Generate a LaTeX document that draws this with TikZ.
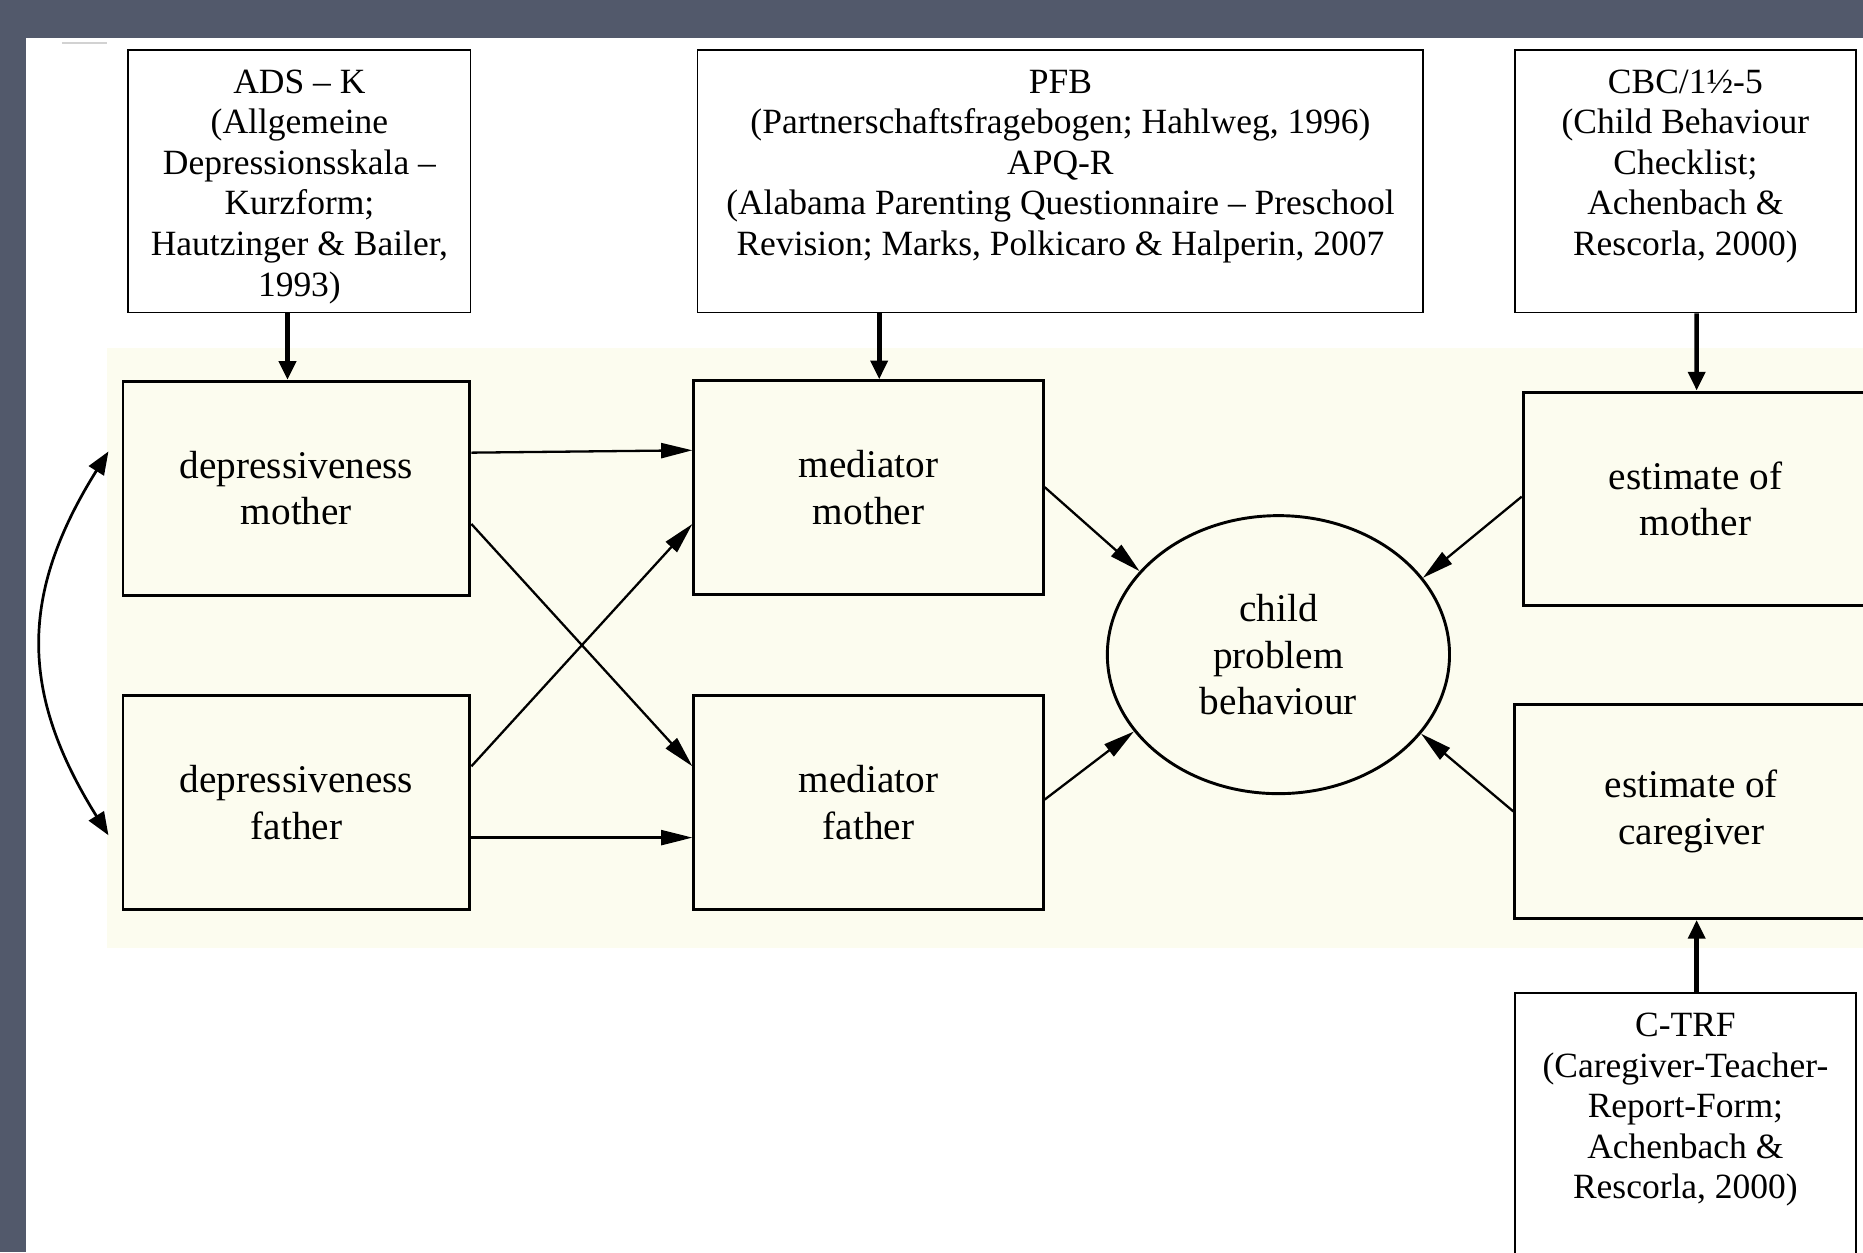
\documentclass[tikz,border=0pt]{standalone}
\usepackage{fontspec}
\setmainfont{Liberation Serif}
\usetikzlibrary{calc, arrows.meta, shapes.geometric}
\definecolor{frame}{RGB}{82,89,107}
\definecolor{panel}{RGB}{252,252,239}
\tikzset{
  srcbox/.style={draw, line width=0.45pt, fill=white, minimum width=28.8mm,
                 minimum height=22.1mm, inner sep=0pt},
  srctxt/.style={anchor=north, align=center, inner sep=0pt,
                 font=\fontsize{8.5}{9.7}\selectfont},
  varbox/.style={draw, line width=0.7pt, align=center, minimum width=29.2mm,
                 minimum height=18mm, inner sep=0pt,
                 font=\fontsize{9.4}{11.1}\selectfont},
  outcome/.style={varbox, ellipse, minimum width=28.8mm, minimum height=23.4mm},
  eff/.style={-{Triangle[length=7.5pt, width=3.6pt]}, line width=0.55pt},
  meas/.style={-{Triangle[length=4.5pt, width=4pt]}, line width=1.1pt},
  corr/.style={{Triangle[length=5.5pt, width=4.2pt]}-{Triangle[length=5.5pt, width=4.2pt]},
               line width=0.65pt},
}
\begin{document}
\begin{tikzpicture}[x=0.1mm, y=-0.1mm]
  \useasboundingbox (0,0) rectangle (1568,1054);
  \clip (0,0) rectangle (1568,1054);
  % page and shaded model area
  \fill[frame] (0,0) rectangle (1568,1054);
  \fill[white] (22,32) rectangle (1568,1060);
  \draw[gray!35, line width=0.5pt] (52,36) -- (90,36);
  \fill[panel] (90,293) rectangle (1580,798);

  % instruments
  \node[srcbox] (ads) at (252,152.5) {};
  \node[srcbox, minimum width=61.1mm] (pfb) at (892.5,152.5) {};
  \node[srcbox, minimum width=28.7mm] (cbc) at (1418.5,152.5) {};
  \node[srcbox, minimum width=28.7mm, minimum height=24.4mm] (ctrf) at (1418.5,958) {};
  \node[srctxt] (adst) at ($(ads.north)+(0,17)$)
    {ADS -- K\\(Allgemeine\\Depressionsskala --\\Kurzform;\\Hautzinger \& Bailer,\\1993)};
  \node[srctxt] (pfbt) at ($(pfb.north)+(0,17)$)
    {PFB\\(Partnerschaftsfragebogen; Hahlweg, 1996)\\APQ-R\\(Alabama Parenting Questionnaire -- Preschool\\Revision; Marks, Polkicaro \& Halperin, 2007};
  \node[srctxt] (cbct) at ($(cbc.north)+(0,17)$)
    {CBC/1½-5\\(Child Behaviour\\Checklist;\\Achenbach \&\\Rescorla, 2000)};
  \node[srctxt] (ctrft) at ($(ctrf.north)+(0,17)$)
    {C-TRF\\(Caregiver-Teacher-\\Report-Form;\\Achenbach \&\\Rescorla, 2000)};

  % model
  \node[varbox] (dm) at (249.5,411) {depressiveness\\mother};
  \node[varbox] (df) at (249.5,675.5) {depressiveness\\father};
  \node[varbox, minimum width=29.4mm] (mm) at (731,410.5) {mediator\\mother};
  \node[varbox, minimum width=29.4mm] (mf) at (731,675.5) {mediator\\father};
  \node[outcome] (child) at (1076,551) {child\\problem\\behaviour};
  \node[varbox, minimum width=29mm] (em) at (1427,420) {estimate of\\mother};
  \node[varbox, minimum width=29.7mm] (ec) at (1423.5,683) {estimate of\\caregiver};

  % measurement arrows
  \draw[meas] ($(ads.south)+(-10,0)$) -- ($(dm.north)+(-7.5,0)$);
  \draw[meas] ($(pfb.south)+(-152.5,0)$) -- ($(mm.north)+(9,0)$);
  \draw[meas] ($(cbc.south)+(9.5,0)$) -- ($(em.north)+(1,0)$);
  \draw[meas] ($(ctrf.north)+(9.5,0)$) -- ($(ec.south)+(4.5,0)$);

  % paths
  \draw[corr] ($(dm.west)+(-11,-31)$) .. controls +(-75,120) and +(-75,-120) .. ($(df.west)+(-11,27.5)$);
  \draw[eff] ($(dm.east)+(0,-30)$) -- ($(mm.west)+(0,-31.5)$);
  \draw[eff] ($(dm.east)+(0,30)$) -- ($(mf.west)+(0,-30.5)$);
  \draw[eff] ($(df.east)+(0,-30.5)$) -- ($(mm.west)+(0,30.5)$);
  \draw[eff] ($(df.east)+(0,29.5)$) -- ($(mf.west)+(0,29.5)$);
  \draw[eff] ($(mm.east)+(0,-0.5)$) -- (child.149);
  \draw[eff] ($(mf.east)+(0,-2.5)$) -- (child.208);
  \draw[eff] ($(em.west)+(0,-2)$) -- (child.28);
  \draw[eff] (ec.west) -- (child.331);
\end{tikzpicture}
\end{document}
